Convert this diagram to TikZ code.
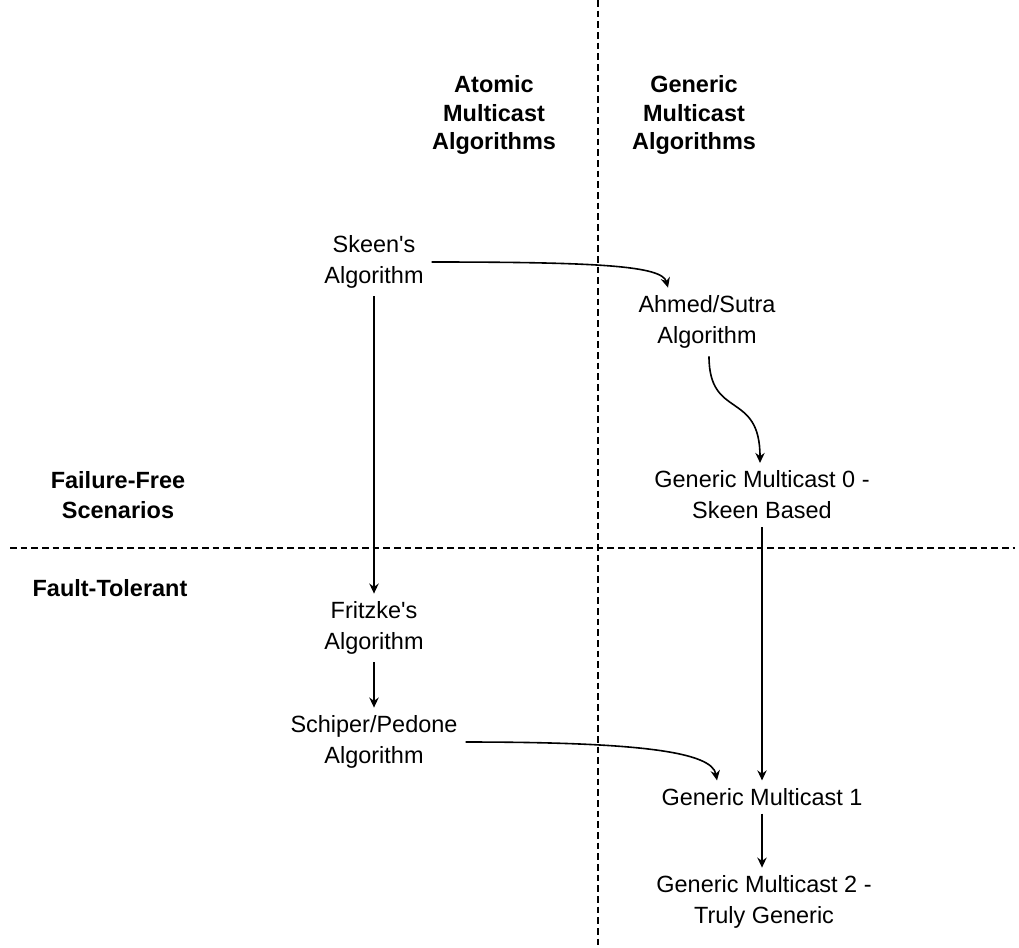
\documentclass[tikz,border=0pt]{standalone}
\usepackage{fontspec}
\setmainfont{Liberation Sans}
\usetikzlibrary{arrows.meta,calc}

\begin{document}
\begin{tikzpicture}[x=0.75pt,y=-0.75pt,
	lbl/.style={align=center,inner sep=0pt,outer sep=6pt,font=\fontsize{17.6}{23.2}\selectfont},
	hdr/.style={align=center,inner sep=0pt,font=\bfseries\fontsize{17.6}{21.5}\selectfont},
	conn/.style={line width=1.2pt,-{Stealth[length=7.5pt,width=7pt]}},
	sep/.style={line width=1.1pt,dash pattern=on 5pt off 3pt}]
	\useasboundingbox (0,0) rectangle (1019,947);
	
	\draw[sep] (598,0) -- (598,947);
	\draw[sep] (10,548) -- (1015,548);
	
	\node[hdr] (atomic) at (494,115) {Atomic\\Multicast\\Algorithms};
	\node[hdr] (generic) at (694,115) {Generic\\Multicast\\Algorithms};
	\node[hdr,font=\bfseries\fontsize{17.6}{22.5}\selectfont] (failfree) at (118,495) {Failure-Free\\Scenarios};
	\node[hdr] (faulttol) at (110,588) {Fault-Tolerant};
	
	\node[lbl] (skeen) at (374,262) {Skeen\textquotesingle s\\Algorithm};
	\node[lbl] (ahmed) at (707,322) {Ahmed/Sutra\\Algorithm};
	\node[lbl] (gm0) at (762,495) {Generic Multicast 0 -\\Skeen Based};
	\node[lbl] (fritzke) at (374,628) {Fritzke\textquotesingle s\\Algorithm};
	\node[lbl] (schiper) at (374,742) {Schiper/Pedone\\Algorithm};
	\node[lbl] (gm1) at (762,797) {Generic Multicast 1};
	\node[lbl] (gm2) at (764,902) {Generic Multicast 2 -\\Truly Generic};
	
	\draw[conn] (skeen.east) .. controls (600,262) and (662,266) .. ($(ahmed.north)+(-39,0)$);
	\draw[conn] (ahmed.south -| 709,0) .. controls (709,420) and (760,390) .. (gm0.north -| 760,0);
	\draw[conn] (skeen.south) -- (fritzke.north);
	\draw[conn] (fritzke.south) -- (schiper.north);
	\draw[conn] (schiper.east) .. controls (640,742) and (712,752) .. ($(gm1.north)+(-45,0)$);
	\draw[conn] (gm0.south) -- (gm1.north);
	\draw[conn] (gm1.south) -- (gm1.south |- gm2.north);
\end{tikzpicture}
\end{document}
